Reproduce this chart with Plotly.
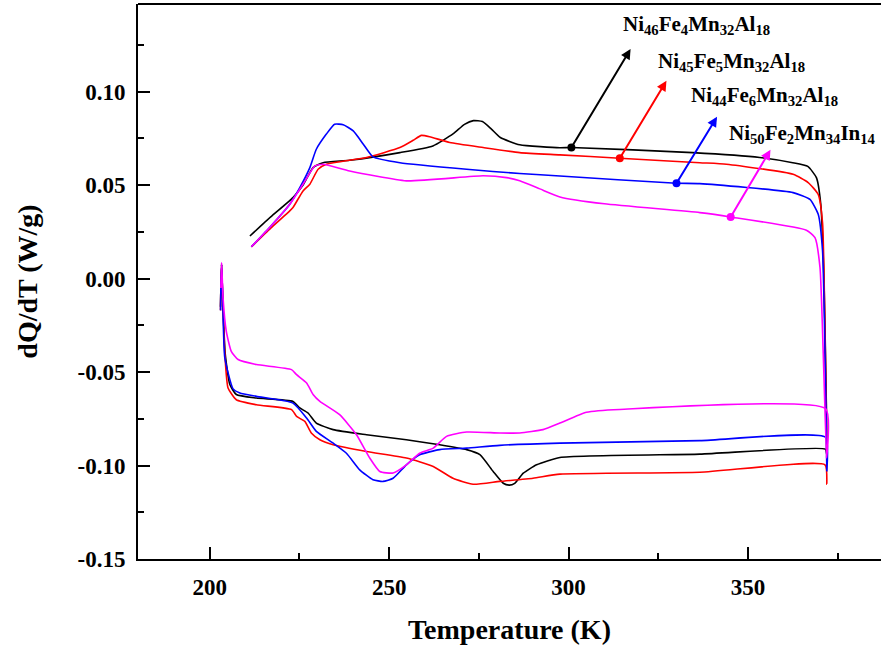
import plotly.graph_objects as go

# ---------------- data ----------------
black_T = [211.2, 217.0, 223.2, 226.0, 228.8, 231.6, 239.0, 253.0, 262.2, 267.8, 271.0, 273.5, 276.0, 278.5, 281.0, 286.4, 297.6, 300.8, 334.6, 353.3, 362.5, 366.7, 369.1, 370.3, 371.2, 371.8, 372.0,
           371.6, 336.6, 297.6, 291.1, 287.4, 285.0, 283.5, 281.8, 279.0, 275.3, 271.6, 264.1, 254.8, 243.7, 234.4, 229.7, 227.4, 225.1, 223.2, 213.0, 207.4, 205.6, 204.3, 203.6, 203.3, 203.1, 203.0]
black_V = [0.0228, 0.033, 0.0433, 0.050, 0.0594, 0.062, 0.0633, 0.0674, 0.071, 0.0774, 0.0825, 0.0845, 0.084, 0.080, 0.0755, 0.0716, 0.070, 0.0701, 0.0674, 0.0648, 0.062, 0.060, 0.054, 0.040, 0.000, -0.060, -0.094,
           -0.0912, -0.0939, -0.0957, -0.0996, -0.1041, -0.1095, -0.1105, -0.1095, -0.1032, -0.0942, -0.0915, -0.0889, -0.0862, -0.0835, -0.0808, -0.0773, -0.0719, -0.0692, -0.0657, -0.0639, -0.062, -0.0567, -0.040, -0.010, 0.0076, -0.005, -0.015]

red_T = [211.6, 217.0, 222.3, 223.2, 226.0, 227.9, 230.2, 232.5, 243.7, 253.0, 256.7, 259.0, 261.3, 266.9, 276.2, 286.4, 297.6, 314.3, 336.6, 344.0, 362.6, 366.8, 369.6, 370.8, 371.5, 372.0,
         371.5, 336.6, 297.6, 290.1, 280.8, 273.4, 267.8, 262.3, 254.8, 243.7, 234.4, 230.7, 228.3, 226.5, 224.2, 222.8, 213.0, 207.4, 205.1, 204.2, 203.6, 203.3, 203.1, 203.0]
red_V = [0.017, 0.027, 0.0362, 0.038, 0.0469, 0.0505, 0.0585, 0.0612, 0.0648, 0.0701, 0.074, 0.0766, 0.0759, 0.0728, 0.0701, 0.0674, 0.0662, 0.0644, 0.062, 0.0612, 0.0558, 0.0514, 0.045, 0.030, -0.030, -0.110,
         -0.0996, -0.1036, -0.1046, -0.1068, -0.1085, -0.110, -0.1068, -0.1005, -0.096, -0.0925, -0.0889, -0.0862, -0.0826, -0.0764, -0.0737, -0.0701, -0.0675, -0.0648, -0.0585, -0.040, -0.010, 0.0076, -0.005, -0.017]

blue_T = [211.6, 217.0, 222.3, 225.1, 227.9, 229.7, 232.5, 234.8, 237.2, 240.0, 242.8, 245.5, 253.0, 271.6, 286.4, 297.6, 330.1, 336.6, 362.6, 367.3, 369.6, 370.8, 371.5, 372.0,
          371.6, 336.6, 297.6, 280.8, 271.6, 264.1, 258.5, 254.8, 251.1, 248.3, 245.5, 241.8, 238.1, 234.4, 229.7, 227.0, 223.2, 213.0, 208.4, 206.5, 204.2, 203.6, 203.3, 203.1, 203.0]
blue_V = [0.017, 0.028, 0.0398, 0.0487, 0.0594, 0.0692, 0.0773, 0.0826, 0.0823, 0.079, 0.0719, 0.0651, 0.062, 0.0585, 0.0562, 0.0549, 0.051, 0.0508, 0.046, 0.0424, 0.0344, 0.015, -0.040, -0.1028,
          -0.0848, -0.0867, -0.088, -0.0892, -0.0907, -0.0915, -0.0942, -0.0996, -0.1068, -0.1085, -0.1076, -0.1023, -0.0934, -0.088, -0.0817, -0.0746, -0.0666, -0.063, -0.0612, -0.059, -0.0424, -0.010, 0.0076, -0.005, -0.017]

mag_T = [211.6, 217.0, 222.3, 226.0, 229.3, 231.6, 239.0, 254.8, 276.2, 282.7, 286.4, 292.0, 297.6, 310.0, 336.6, 345.2, 366.3, 368.7, 370.1, 371.0, 371.9,
         371.7, 314.3, 305.0, 297.6, 292.9, 286.4, 280.8, 271.6, 266.0, 262.3, 258.5, 254.8, 251.1, 247.4, 244.6, 240.9, 236.2, 230.7, 228.8, 227.0, 224.2, 222.8, 213.0, 207.9, 206.0, 204.6, 203.7, 203.3, 203.1]
mag_V = [0.017, 0.028, 0.0398, 0.0505, 0.0603, 0.0612, 0.0576, 0.0523, 0.055, 0.054, 0.0523, 0.048, 0.0437, 0.040, 0.0353, 0.033, 0.0259, 0.0219, 0.0058, -0.040, -0.096,
         -0.0696, -0.070, -0.0715, -0.0773, -0.0808, -0.0826, -0.0826, -0.0821, -0.0844, -0.0907, -0.0934, -0.0996, -0.104, -0.1032, -0.096, -0.0835, -0.0728, -0.0657, -0.062, -0.0558, -0.0514, -0.0487, -0.046, -0.0433, -0.0389, -0.0281, -0.0103, 0.0086, -0.005]

series_names = ["Ni<sub>46</sub>Fe<sub>4</sub>Mn<sub>32</sub>Al<sub>18</sub>",
                "Ni<sub>45</sub>Fe<sub>5</sub>Mn<sub>32</sub>Al<sub>18</sub>",
                "Ni<sub>44</sub>Fe<sub>6</sub>Mn<sub>32</sub>Al<sub>18</sub>",
                "Ni<sub>50</sub>Fe<sub>2</sub>Mn<sub>34</sub>In<sub>14</sub>"]
series_colors = ["#000000", "#ff0000", "#0000ff", "#ff00ff"]

# annotation anchor points: marker on curve, arrow head, label position
marker_T = [300.8, 314.3, 330.1, 345.2]
marker_V = [0.0701, 0.0644, 0.0510, 0.0330]
head_T = [317.3, 327.3, 341.4, 356.3]
head_V = [0.1228, 0.1058, 0.0866, 0.0689]
label_T = [314.7, 324.3, 333.6, 344.2]
label_V = [0.1355, 0.1157, 0.0975, 0.0776]

x_ticks = [200, 250, 300, 350]
x_minor = [225, 275, 325, 375]
y_ticks = [-0.15, -0.10, -0.05, 0.00, 0.05, 0.10]
y_ticklabels = ["-0.15", "-0.10", "-0.05", "0.00", "0.05", "0.10"]
y_minor = [-0.125, -0.075, -0.025, 0.025, 0.075, 0.125]

FONT = "Liberation Serif"

fig = go.Figure()
all_T = [black_T, red_T, blue_T, mag_T]
all_V = [black_V, red_V, blue_V, mag_V]
for T, V, name, col in zip(all_T, all_V, series_names, series_colors):
    fig.add_trace(go.Scatter(x=T, y=V, mode="lines", name=name,
                             line=dict(color=col, width=1.6, shape="spline", smoothing=0.5),
                             showlegend=False))

for i in range(4):
    fig.add_trace(go.Scatter(x=[marker_T[i]], y=[marker_V[i]], mode="markers",
                             marker=dict(color=series_colors[i], size=8),
                             showlegend=False, hoverinfo="skip"))
    fig.add_annotation(x=head_T[i], y=head_V[i], ax=marker_T[i], ay=marker_V[i],
                       xref="x", yref="y", axref="x", ayref="y", text="",
                       showarrow=True, arrowhead=2, arrowsize=1, arrowwidth=2,
                       arrowcolor=series_colors[i])
    fig.add_annotation(x=label_T[i], y=label_V[i], xref="x", yref="y",
                       text=series_names[i], showarrow=False,
                       xanchor="left", yanchor="middle",
                       font=dict(family=FONT, size=21, color="black", weight="bold"))

# top border of the (cropped) frame
fig.add_shape(type="line", xref="paper", yref="paper", x0=0, x1=1, y0=1, y1=1,
              line=dict(color="black", width=2))

fig.update_xaxes(range=[180, 387.1], showgrid=False, zeroline=False, automargin=False,
                 showline=True, linecolor="black", linewidth=2,
                 tickmode="array", tickvals=x_ticks, ticks="inside", ticklen=12,
                 tickwidth=2, tickcolor="black", ticklabelstandoff=6,
                 minor=dict(tickmode="array", tickvals=x_minor, ticks="inside",
                            ticklen=6, tickwidth=2, tickcolor="black"),
                 tickfont=dict(family=FONT, size=23, color="black", weight="bold"),
                 title=dict(text="Temperature (K)", standoff=21,
                            font=dict(family=FONT, size=28, color="black", weight="bold")))
fig.update_yaxes(range=[-0.15, 0.1469], showgrid=False, zeroline=False, automargin=False,
                 showline=True, linecolor="black", linewidth=2,
                 tickmode="array", tickvals=y_ticks, ticktext=y_ticklabels,
                 ticks="inside", ticklen=12, tickwidth=2, tickcolor="black",
                 minor=dict(tickmode="array", tickvals=y_minor, ticks="inside",
                            ticklen=6, tickwidth=2, tickcolor="black"),
                 tickfont=dict(family=FONT, size=23, color="black", weight="bold"),
                 ticklabelstandoff=6,
                 title=dict(text="dQ/dT (W/g)", standoff=32,
                            font=dict(family=FONT, size=28, color="black", weight="bold")))

fig.update_layout(width=881, height=652, margin=dict(l=138, r=0, t=4, b=93, autoexpand=False),
                  paper_bgcolor="white", plot_bgcolor="white")

fig.write_html("out.html", config={"displayModeBar": False},
               post_script="document.body.style.margin='0';document.body.style.overflow='hidden';")
